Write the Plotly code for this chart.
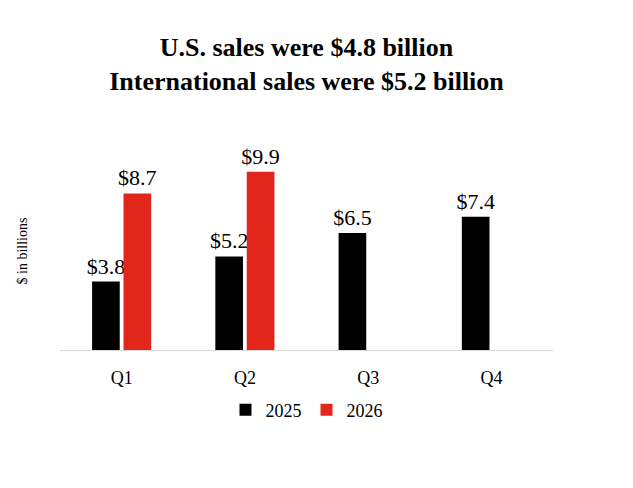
import plotly.graph_objects as go

quarters = ["Q1", "Q2", "Q3", "Q4"]
sales_2025 = [3.8, 5.2, 6.5, 7.4]
sales_2026 = [8.7, 9.9, None, None]

serif = "Liberation Serif, Times New Roman, serif"

fig = go.Figure()
fig.add_trace(go.Bar(
    x=quarters, y=sales_2025, name="2025",
    marker=dict(color="#000000", line=dict(width=0)),
    text=[f"${v:.1f}" for v in sales_2025],
    textposition="outside", cliponaxis=False, constraintext="none",
    textfont=dict(family=serif, size=22, color="#000000"),
))
fig.add_trace(go.Bar(
    x=quarters, y=sales_2026, name="2026",
    marker=dict(color="#E1261C", line=dict(width=0)),
    text=[f"${v:.1f}" if v is not None else "" for v in sales_2026],
    textposition="outside", cliponaxis=False, constraintext="none",
    textfont=dict(family=serif, size=22, color="#000000"),
))

# the page adds an 8px body margin, so margins are offset to compensate
fig.update_layout(
    width=633, height=488,
    margin=dict(l=52, r=88, t=144, b=146, autoexpand=False),
    paper_bgcolor="white", plot_bgcolor="white",
    barmode="group", bargap=0.49, bargroupgap=0.12,
    title=dict(
        text="<b>U.S. sales were $4.8 billion<br>International sales were $5.2 billion</b>",
        x=0.5, xref="paper", xanchor="center",
        y=0.902, yref="container", yanchor="middle",
        font=dict(family=serif, size=26, color="#000000"),
    ),
    font=dict(family=serif, color="#000000"),
    showlegend=True,
    legend=dict(
        orientation="h", x=0.5, xanchor="center", y=-0.21, yanchor="top",
        font=dict(family=serif, size=18, color="#000000"),
        itemwidth=30, traceorder="normal",
    ),
    xaxis=dict(
        showline=True, linecolor="#D9D9D9", linewidth=1, automargin=False,
        ticks="", ticklabelstandoff=11,
        tickfont=dict(family=serif, size=18, color="#000000"),
        showgrid=False,
    ),
    yaxis=dict(
        range=[0, 11], showticklabels=False, showgrid=False, zeroline=False,
        showline=False, automargin=False,
        title=dict(text="$ in billions", font=dict(family=serif, size=14, color="#000000"),
                   standoff=28),
    ),
)

fig.write_html("out.html")
